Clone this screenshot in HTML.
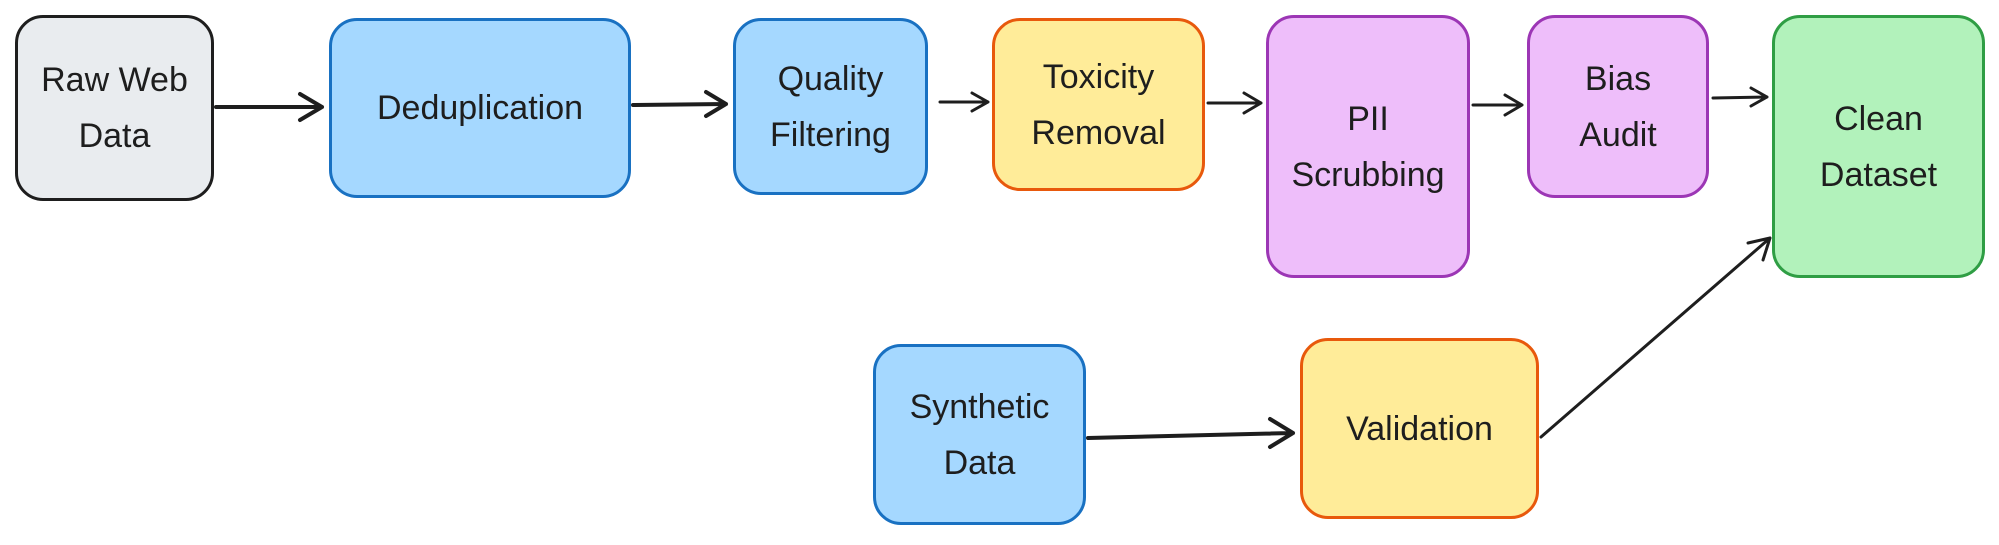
<!DOCTYPE html>
<html><head><meta charset="utf-8"><style>
html,body{margin:0;padding:0;background:#fff;width:1999px;height:545px;overflow:hidden}
.b{position:absolute;box-sizing:border-box;border:3px solid;border-radius:28px;display:flex;align-items:center;justify-content:center;text-align:center;font-family:"Liberation Sans",sans-serif;font-size:34px;line-height:56px;color:#1e1e1e}
.g{background:#e9ecef;border-color:#1e1e1e}
.bl{background:#a5d8ff;border-color:#1971c2}
.y{background:#ffec99;border-color:#e8590c}
.p{background:#eebefa;border-color:#9c36b5}
.gr{background:#b2f2bb;border-color:#2f9e44}
svg{position:absolute;left:0;top:0}
</style></head><body>
<div class="b g" style="left:15px;top:15px;width:199px;height:186px">Raw Web<br>Data</div>
<div class="b bl" style="left:329px;top:18px;width:302px;height:180px">Deduplication</div>
<div class="b bl" style="left:733px;top:18px;width:195px;height:177px">Quality<br>Filtering</div>
<div class="b y" style="left:992px;top:18px;width:213px;height:173px">Toxicity<br>Removal</div>
<div class="b p" style="left:1266px;top:15px;width:204px;height:263px">PII<br>Scrubbing</div>
<div class="b p" style="left:1527px;top:15px;width:182px;height:183px">Bias<br>Audit</div>
<div class="b gr" style="left:1772px;top:15px;width:213px;height:263px">Clean<br>Dataset</div>
<div class="b bl" style="left:873px;top:344px;width:213px;height:181px">Synthetic<br>Data</div>
<div class="b y" style="left:1300px;top:338px;width:239px;height:181px">Validation</div>
<svg width="1999" height="545" fill="none" stroke="#1e1e1e" stroke-linecap="round" stroke-linejoin="round">
<g stroke-width="4">
<path d="M216 107 L322 107 M300 94 L322 107 L300 120"/>
<path d="M633 105 L726 104 M706 92 L726 104 L706 116"/>
</g>
<g stroke-width="3">
<path d="M940 102 L988 102 M972 93 L988 102 L972 111"/>
<path d="M1208 103 L1261 103 M1244 93 L1261 103 L1244 113"/>
<path d="M1473 105 L1522 105 M1505 95 L1522 105 L1505 115"/>
<path d="M1713 98 L1767 97 M1751 88 L1767 97 L1751 106"/>
<path d="M1541 437 L1770 238 M1748 243 L1770 238 L1763 260"/>
</g>
<path stroke-width="4" d="M1088 438 L1293 433 M1270 419 L1293 433 L1270 447"/>
</svg>
</body></html>
